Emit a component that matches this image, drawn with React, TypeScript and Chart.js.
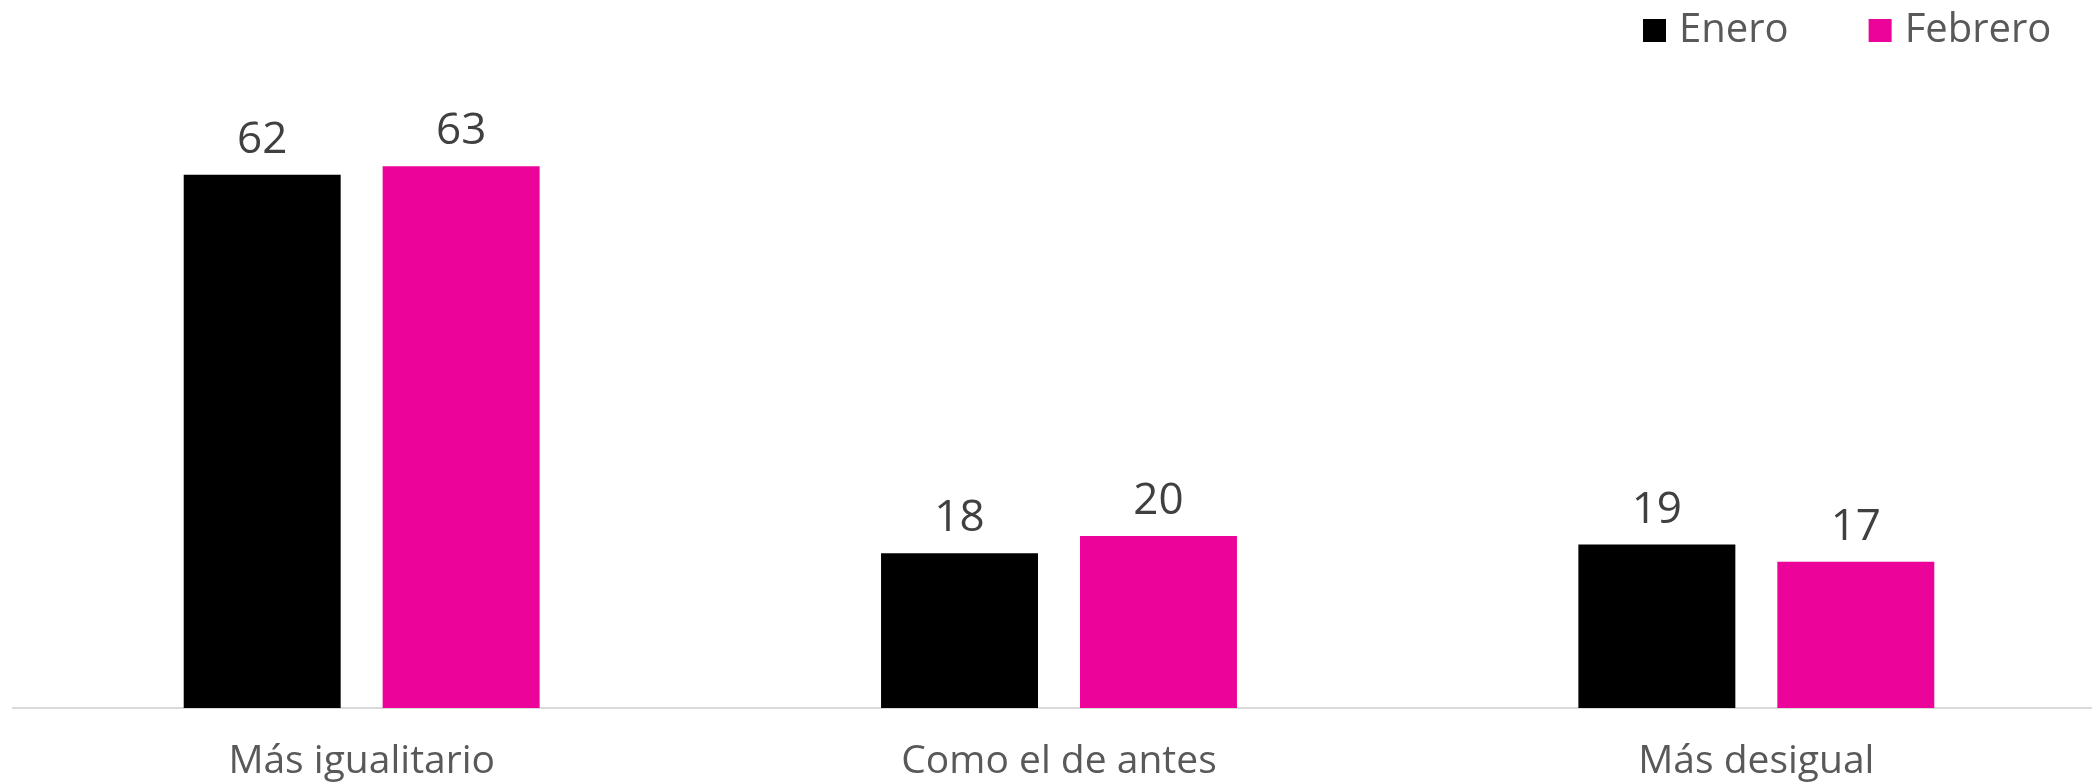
import React, { useEffect, useRef } from 'react';
import { Chart, registerables } from 'chart.js';

Chart.register(...registerables);

const categories = ['Más igualitario', 'Como el de antes', 'Más desigual'];
const seriesNames = ['Enero', 'Febrero'];
const eneroValues = [62, 18, 19];
const febreroValues = [63, 20, 17];
const seriesColors = ['#000000', '#EC0399'];

const FONT = '"Open Sans", "Noto Sans", sans-serif';

const valueLabelsPlugin = {
  id: 'valueLabels',
  afterDatasetsDraw(chart: any) {
    const ctx = chart.ctx;
    ctx.save();
    ctx.font = `44px ${FONT}`;
    ctx.fillStyle = '#404040';
    ctx.textAlign = 'center';
    ctx.textBaseline = 'alphabetic';
    chart.data.datasets.forEach((ds: any, i: number) => {
      const meta = chart.getDatasetMeta(i);
      meta.data.forEach((el: any, j: number) => {
        ctx.fillText(String(ds.data[j]), el.x, el.y - 22);
      });
    });
    ctx.restore();
  },
};

const customLegendPlugin = {
  id: 'customLegend',
  afterDraw(chart: any) {
    const ctx = chart.ctx;
    ctx.save();
    ctx.font = `40px ${FONT}`;
    ctx.textBaseline = 'alphabetic';
    ctx.textAlign = 'left';
    let x = 1643;
    chart.data.datasets.forEach((ds: any) => {
      ctx.fillStyle = ds.backgroundColor;
      ctx.fillRect(x, 19, 23, 23);
      ctx.fillStyle = '#595959';
      const tx = x + 23 + 13;
      ctx.fillText(ds.label, tx, 42);
      x = tx + ctx.measureText(ds.label).width + 80;
    });
    ctx.restore();
  },
};

export default function App() {
  const canvasRef = useRef<HTMLCanvasElement | null>(null);

  useEffect(() => {
    if (!canvasRef.current) return;
    const chart = new Chart(canvasRef.current, {
      type: 'bar',
      data: {
        labels: categories,
        datasets: [
          {
            label: seriesNames[0],
            data: eneroValues,
            backgroundColor: seriesColors[0],
            categoryPercentage: 0.5706,
            barPercentage: 0.789,
          },
          {
            label: seriesNames[1],
            data: febreroValues,
            backgroundColor: seriesColors[1],
            categoryPercentage: 0.5706,
            barPercentage: 0.789,
          },
        ],
      },
      options: {
        responsive: false,
        maintainAspectRatio: false,
        animation: false,
        layout: { padding: { left: 13, right: 1, top: 106, bottom: 0 } },
        plugins: {
          legend: { display: false },
          tooltip: { enabled: false },
        },
        scales: {
          x: {
            grid: { display: false, drawTicks: false },
            border: { display: true, color: '#d9d9d9', width: 2 },
            ticks: {
              font: { family: FONT, size: 39 },
              color: '#595959',
              padding: 30,
              maxRotation: 0,
              minRotation: 0,
            },
            afterFit(scale: any) {
              scale.height = 74;
            },
          },
          y: {
            display: false,
            min: 0,
            max: 70,
          },
        },
      },
      plugins: [valueLabelsPlugin, customLegendPlugin],
    });
    return () => chart.destroy();
  }, []);

  return (
    <div
      style={{
        position: 'absolute',
        left: 0,
        top: 0,
        width: 2092,
        height: 782,
        overflow: 'hidden',
        background: '#ffffff',
      }}
    >
      <canvas ref={canvasRef} width={2106} height={782} style={{ display: 'block' }} />
    </div>
  );
}
